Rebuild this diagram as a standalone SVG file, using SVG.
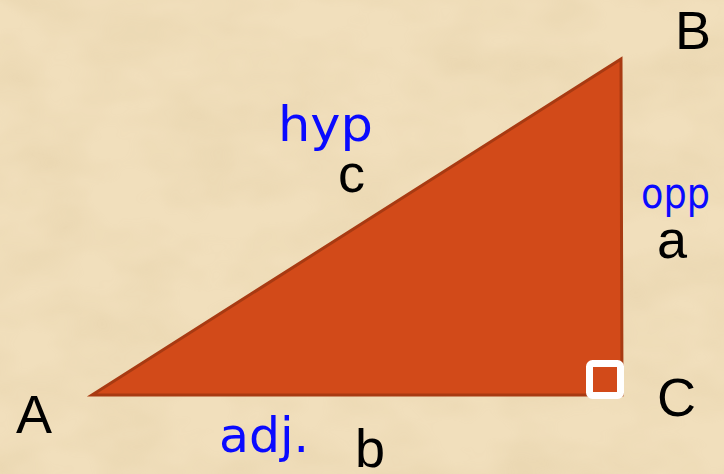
<svg xmlns="http://www.w3.org/2000/svg" width="724" height="474" viewBox="0 0 724 474">
  <defs>
    <filter id="parch" x="0" y="0" width="100%" height="100%">
      <feTurbulence type="fractalNoise" baseFrequency="0.012 0.02" numOctaves="3" seed="7" result="n"/>
      <feColorMatrix in="n" type="matrix" values="0 0 0 0 0.55  0 0 0 0 0.40  0 0 0 0 0.18  0 0 0 0.9 -0.3" result="c"/>
      <feComposite in="c" in2="SourceGraphic" operator="in"/>
    </filter>
    <style>
      .lbl { font-family: "Liberation Sans", Arial, sans-serif; font-size: 54px; fill: #000; }
      .hand { font-family: "DejaVu Sans", "Liberation Sans", sans-serif; fill: #0a0aff; }
    </style>
  </defs>
  <rect width="724" height="474" fill="#F1DFBC"/>
  <rect width="724" height="474" fill="#000" filter="url(#parch)" opacity="0.28"/>

  <g id="triangle">
    <polygon points="92,395 621,59 622,395" fill="#D24A19" stroke="#A83A12" stroke-width="3" stroke-linejoin="miter"/>
  </g>
  <g id="right-angle">
    <rect x="589.5" y="363.5" width="31" height="32" rx="3" fill="#D24A19" stroke="#FFFFFF" stroke-width="7"/>
  </g>

  <g id="vertex-labels">
    <text class="lbl" x="16" y="433">A</text>
    <text class="lbl" x="675" y="49">B</text>
    <text class="lbl" x="657" y="416">C</text>
  </g>
  <g id="side-labels">
    <text class="lbl" x="338" y="192">c</text>
    <text class="lbl" x="657" y="258">a</text>
    <text class="lbl" x="355" y="467">b</text>
  </g>
  <g id="handwritten">
    <text class="hand" x="278" y="141" font-size="48" textLength="95" lengthAdjust="spacingAndGlyphs">hyp</text>
    <text class="hand" x="641" y="208" font-size="42" textLength="69" lengthAdjust="spacingAndGlyphs">opp</text>
    <text class="hand" x="219" y="452" font-size="48" textLength="90" lengthAdjust="spacingAndGlyphs">adj.</text>
  </g>
</svg>
